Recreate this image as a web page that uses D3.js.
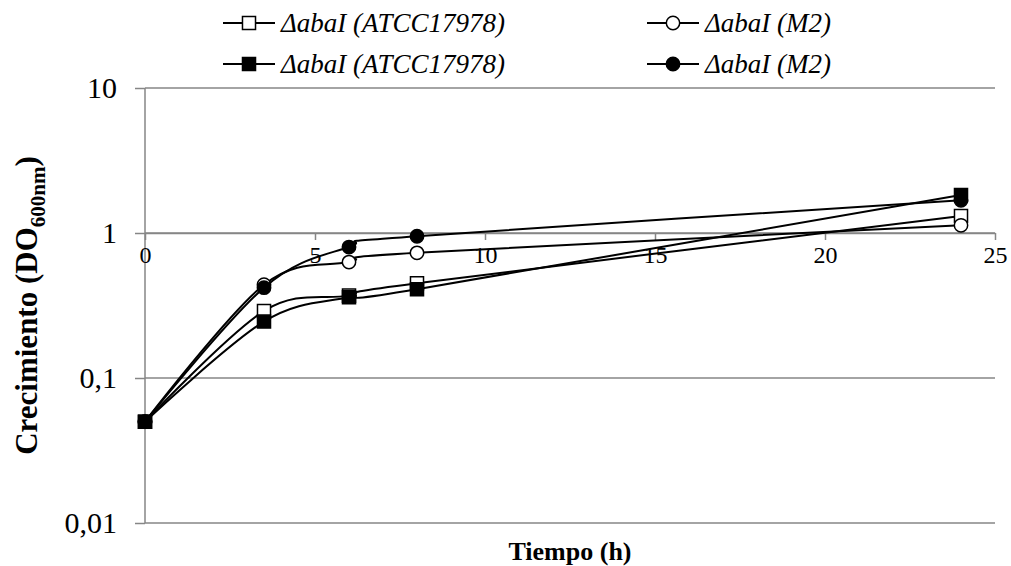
<!DOCTYPE html>
<html>
<head>
<meta charset="utf-8">
<script src="https://cdn.jsdelivr.net/npm/d3@7"></script>
<style>
  html, body { margin: 0; padding: 0; background: #fff; }
  svg { display: block; }
  text { font-family: "Liberation Serif", "Times New Roman", serif; fill: #000; }
</style>
</head>
<body>
<svg id="chart" width="1011" height="566"></svg>
<script>
// ---- data ----
const times = [0, 3.5, 6, 8, 24];
const seriesNames = ["ΔabaI (ATCC17978)", "ΔabaI (M2)", "ΔabaI (ATCC17978)", "ΔabaI (M2)"];
const openSquare  = [0.05, 0.29, 0.37, 0.45, 1.31];
const openCircle  = [0.05, 0.44, 0.63, 0.73, 1.13];
const filledSquare = [0.05, 0.245, 0.36, 0.41, 1.83];
const filledCircle = [0.05, 0.42, 0.80, 0.95, 1.68];
const xTicks = [0, 5, 10, 15, 20, 25];
const yTicks = [0.01, 0.1, 1, 10];
const yTickLabels = ["0,01", "0,1", "1", "10"];
const xTitle = "Tiempo (h)";

(function () {
const series = [
  { name: seriesNames[0], values: openSquare,  shape: "square", fill: "#fff" },
  { name: seriesNames[1], values: openCircle,  shape: "circle", fill: "#fff" },
  { name: seriesNames[2], values: filledSquare, shape: "square", fill: "#000" },
  { name: seriesNames[3], values: filledCircle, shape: "circle", fill: "#000" }
];

const svg = d3.select("#chart");
const pLeft = 145, pRight = 995, pTop = 88, pBottom = 523;
const x = d3.scaleLinear().domain([0, 25]).range([pLeft, pRight]);
const y = d3.scaleLog().domain([0.01, 10]).range([pBottom, pTop]);
const gridColor = "#868686";

// gridlines
svg.append("g").selectAll("line").data(yTicks).join("line")
  .attr("x1", pLeft).attr("x2", pRight)
  .attr("y1", d => y(d)).attr("y2", d => y(d))
  .attr("stroke", gridColor).attr("stroke-width", 1.5);

// y axis
const yAxis = d3.axisLeft(y).tickValues(yTicks).tickSize(10)
  .tickFormat((d, i) => yTickLabels[i]);
const gy = svg.append("g").attr("transform", `translate(${pLeft},0)`).call(yAxis);
gy.attr("font-family", null);
gy.select(".domain").attr("stroke", gridColor).attr("stroke-width", 1.5)
  .attr("d", `M0,${pTop}V${pBottom}`);
gy.selectAll(".tick line").attr("stroke", gridColor).attr("stroke-width", 1.5);
gy.selectAll(".tick text").attr("x", -28).attr("dy", "0.33em")
  .style("font-size", "30px").attr("fill", "#000");

// x axis at y = 1
const xAxis = d3.axisBottom(x).tickValues(xTicks).tickSize(7).tickSizeOuter(0)
  .tickFormat(d3.format("d"));
const gx = svg.append("g").attr("transform", `translate(0,${y(1)})`).call(xAxis);
gx.attr("font-family", null);
gx.select(".domain").attr("stroke", gridColor).attr("stroke-width", 1.5);
gx.selectAll(".tick line").attr("stroke", gridColor).attr("stroke-width", 1.5);
gx.selectAll(".tick text").attr("y", 13).attr("dy", "0.71em")
  .style("font-size", "24px").attr("fill", "#000");

// lines
const line = d3.line()
  .x((d, i) => x(times[i]))
  .y(d => y(d))
  .curve(d3.curveCardinal.tension(0));

const symSq = d3.symbol().type(d3.symbolSquare).size(170);
const symCi = d3.symbol().type(d3.symbolCircle).size(140);

series.forEach(s => {
  const g = svg.append("g");
  g.append("path").attr("d", line(s.values))
    .attr("fill", "none").attr("stroke", "#000").attr("stroke-width", 2);
  g.selectAll("path.m").data(s.values).join("path").attr("class", "m")
    .attr("transform", (d, i) => `translate(${x(times[i])},${y(d)})`)
    .attr("d", s.shape === "square" ? symSq : symCi)
    .attr("fill", s.fill).attr("stroke", "#000").attr("stroke-width", 1.5);
});

// legend
const legendPos = [
  { lx: 223, ly: 23 }, { lx: 647, ly: 23 },
  { lx: 223, ly: 64 }, { lx: 647, ly: 64 }
];
series.forEach((s, i) => {
  const p = legendPos[i];
  const g = svg.append("g").attr("transform", `translate(${p.lx},${p.ly})`);
  g.append("line").attr("x1", 0).attr("x2", 52).attr("y1", 0).attr("y2", 0)
    .attr("stroke", "#000").attr("stroke-width", 2);
  g.append("path").attr("transform", "translate(26,0)")
    .attr("d", s.shape === "square" ? symSq : symCi)
    .attr("fill", s.fill).attr("stroke", "#000").attr("stroke-width", 1.5);
  g.append("text").attr("x", 58).attr("y", 0).attr("dy", "0.33em")
    .style("font-size", "27px").style("font-style", "italic").text(s.name);
});

// axis titles
svg.append("text").attr("x", 570).attr("y", 560).attr("text-anchor", "middle")
  .style("font-size", "26px").style("font-weight", "bold").text(xTitle);

const yt = svg.append("text")
  .attr("transform", `translate(37,${(pTop + pBottom) / 2}) rotate(-90)`)
  .attr("text-anchor", "middle")
  .style("font-size", "31px").style("font-weight", "bold");
yt.append("tspan").text("Crecimiento (DO");
yt.append("tspan").attr("dy", 8).style("font-size", "21px").text("600nm");
yt.append("tspan").attr("dy", -8).text(")");
})();
</script>
</body>
</html>
